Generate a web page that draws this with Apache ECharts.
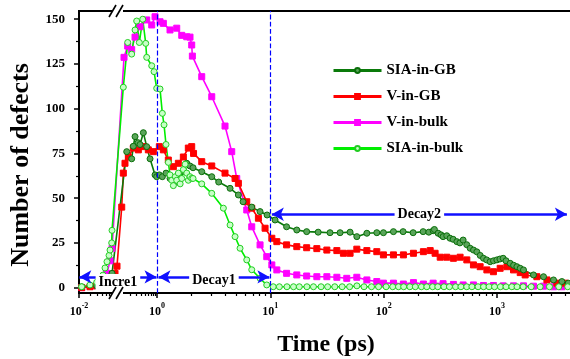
<!DOCTYPE html>
<html>
<head>
<meta charset="utf-8">
<script src="https://cdn.jsdelivr.net/npm/echarts@6/dist/echarts.min.js"></script>
<style>
  html, body { margin: 0; padding: 0; background: #fff; }
  #chart { width: 570px; height: 359px; }
</style>
</head>
<body>
<div id="chart"></div>
<script>
// time in ps, number of defects
const siaInGB = [
  [0.0117, 0.5], [0.0284, 1], [0.0464, 2], [0.0588, 4], [0.0702, 8],
  [0.167, 76], [0.224, 72], [0.247, 79], [0.273, 84.4], [0.326, 81], [0.367, 80],
  [0.446, 86.6], [0.544, 78.8], [0.662, 72], [0.889, 63], [0.98, 62],
  [1.048, 63], [1.114, 62], [1.2, 64], [1.302, 61], [1.393, 60], [1.492, 59],
  [1.6, 61], [1.707, 65], [1.828, 69.5], [1.954, 68], [2.078, 67], [2.48, 64.8],
  [3.04, 62], [3.5, 59], [4.41, 55.5], [5.22, 51.8], [5.74, 48], [6.85, 45],
  [8.11, 42.5], [9.35, 40.6], [11.0, 37.8], [13.9, 34], [17.1, 32.2], [20.9, 31.3],
  [26.4, 31], [33.6, 30.7], [41.2, 30.7], [50.5, 31], [57.9, 28.5], [71, 30.4],
  [86.9, 30.7], [99.4, 30.7], [121.8, 31.3], [148.3, 31.3], [181.8, 30.7],
  [222.8, 31.3], [250, 31], [273, 31.8], [280, 32.5], [302, 30.4], [320, 29.5],
  [334, 28.5], [360, 29], [385, 27.6], [410, 27], [442, 25.7], [470, 25],
  [502, 26.6], [540, 24], [579, 22], [620, 21], [663, 20], [710, 18], [759, 16.4],
  [810, 15.5], [869, 14.5], [930, 15], [996, 15.5], [1060, 16], [1132, 16.4],
  [1200, 15], [1306, 13.6], [1400, 12.5], [1497, 11.7], [1600, 10.8], [1711, 9.9],
  [2096, 7.1], [2570, 6.1], [3148, 4.3], [3733, 3.4], [4244, 2.5]
];
const vInGB = [
  [0.0117, 0], [0.0191, 0.5], [0.0284, 1], [0.0412, 1.5], [0.0522, 2.5],
  [0.0624, 4], [0.0702, 6], [0.0838, 8], [0.0942, 12],
  [0.1245, 45], [0.1368, 64], [0.151, 69.5], [0.184, 73], [0.247, 78], [0.332, 77],
  [0.446, 78.8], [0.598, 77], [0.804, 76], [1.048, 78.8], [1.137, 77], [1.258, 71.3],
  [1.393, 67.6], [1.542, 69.5], [1.707, 73], [1.888, 78], [2.023, 78.8], [2.1, 75],
  [2.48, 70.4], [3.04, 68], [3.98, 64], [4.88, 61], [5.22, 58.3], [6.19, 48],
  [6.85, 44.4], [7.84, 38.8], [8.98, 33.2], [10.3, 27.6], [11.4, 25.7], [13.9, 23.9],
  [17.1, 22.9], [20.9, 22.3], [25.7, 21.8], [31.5, 21], [38.6, 20.7], [44.1, 19.2],
  [50.5, 19.2], [57.9, 21.5], [71, 20.7], [86.9, 20.1], [99.4, 18.3], [121.8, 18.3],
  [149.2, 18.3], [182.9, 19.2], [223.9, 20.1], [257, 20.7], [284, 19.2], [315, 17],
  [360, 17], [412, 16.4], [472, 17], [541, 15.5], [619, 12.7], [709, 11.7],
  [813, 9.9], [929, 8.9], [1065, 10.8], [1222, 11.7], [1397, 9.9], [1600, 8.4],
  [1770, 7.1], [2245, 6.1], [2754, 4.3], [3373, 2.5], [3990, 2.5]
];
const vInBulk = [
  [0.0117, 0], [0.0284, 1], [0.0412, 3], [0.0522, 8], [0.0624, 15], [0.0702, 22],
  [0.1426, 128.7], [0.177, 135], [0.224, 133], [0.273, 140], [0.367, 145.8],
  [0.544, 149.6], [0.731, 146.8], [0.889, 151.4], [1.063, 148.6], [1.137, 147.7],
  [1.302, 144], [1.492, 145], [1.652, 141], [1.828, 140.2], [1.954, 140],
  [2.023, 135.6], [2.05, 129.4], [2.48, 117.9], [3.04, 106.7], [3.98, 90.3],
  [4.56, 76], [5.05, 61], [6.19, 43.4], [6.85, 34], [8.11, 23.9], [9.29, 17.3],
  [10.3, 12.7], [11.4, 9.9], [13.9, 8], [17.1, 7.1], [20.9, 6.5], [25.7, 6.1],
  [31.5, 6.1], [38.6, 5.8], [47.2, 5.2], [57.9, 5.8], [71, 4.3], [86.9, 3.4],
  [99.4, 2.5], [121.8, 2.5], [149, 2], [183, 2.8], [224, 2], [273, 2.5], [334, 2.2],
  [412, 1.8], [502, 1.5], [619, 1.5], [759, 1.2], [929, 1.2], [1132, 1], [1397, 1],
  [1711, 1], [2096, 0.8], [2570, 0.8], [3148, 0.5], [3733, 0.5]
];
const siaInBulk = [
  [0.0117, 0.5], [0.0191, 1.5], [0.0284, 3], [0.0412, 7], [0.0464, 11],
  [0.0522, 14.5], [0.0588, 18], [0.0624, 21], [0.0689, 25], [0.0702, 32],
  [0.1368, 112], [0.177, 137], [0.224, 130.5], [0.273, 144], [0.301, 149],
  [0.352, 137], [0.43, 150], [0.513, 136.5], [0.544, 128.7], [0.731, 124],
  [0.838, 120.7], [0.98, 111.4], [1.063, 111], [1.114, 97.4], [1.153, 91],
  [1.2, 80], [1.258, 70], [1.302, 63], [1.35, 60], [1.393, 57], [1.45, 62],
  [1.492, 60], [1.542, 64], [1.6, 58], [1.652, 61], [1.707, 66], [1.77, 69],
  [1.828, 64], [1.888, 60], [1.954, 62], [2.023, 61], [2.078, 61], [2.48, 58],
  [3.04, 52.7], [3.85, 44.4], [4.41, 35], [4.88, 28.5], [5.4, 22], [6.19, 15.5],
  [6.85, 10], [8.11, 5.2], [9.29, 1.5], [10.6, 0.5], [12, 0.5], [14, 0.5],
  [16, 0.5], [18, 0.5], [21, 0.5], [24, 0.5], [28, 0.5], [32, 0.5], [37, 0.5],
  [43, 0.5], [50, 0.5], [58, 1], [67, 0.5], [78, 0.5], [90, 0.5], [105, 0.5],
  [120, 0.5], [135, 0.5], [150, 0.5], [170, 0.5], [190, 0.5], [215, 0.5],
  [240, 0.5], [270, 0.5], [300, 0.5], [340, 0.5], [380, 0.5], [430, 0.5],
  [480, 0.5], [540, 0.5], [600, 0.5], [680, 0.5], [760, 0.5], [850, 0.5],
  [950, 0.5], [1070, 0.5], [1200, 0.5], [1350, 0.5], [1500, 0.5], [1700, 0.5],
  [2000, 0.5], [2400, 0.5], [2900, 0.5], [3500, 0.5], [4200, 0.5]
];
const yTicks = [0, 25, 50, 75, 100, 125, 150];
const yMinorTicks = [12.5, 37.5, 62.5, 87.5, 112.5, 137.5];
const xTickExps = [-2, 0, 1, 2, 3];
const xMinorTimes = [
  0.02, 0.03, 0.04, 0.05, 0.06, 0.07, 0.08, 0.09,
  0.2, 0.3, 0.4, 0.5, 0.6, 0.7, 0.8, 0.9,
  2, 3, 4, 5, 6, 7, 8, 9, 20, 30, 40, 50, 60, 70, 80, 90,
  200, 300, 400, 500, 600, 700, 800, 900, 2000, 3000, 4000
];
const phases = [
  { name: 'Incre1', from: 0.0102, to: 0.97, y: 6, dy: 18 },
  { name: 'Decay1', from: 1.03, to: 9.8, y: 6, dy: 16 },
  { name: 'Decay2', from: 10.3, to: 4130, y: 41, dy: 13 }
];

// left part (10^-2..10^0) is squeezed, as in the original broken axis
const K = 39 / 113.3;
const toAxis = t => { const e = Math.log10(t); return e < 0 ? e * K : e; };
const fromAxis = s => s < 0 ? s / K : s;

const FONT = '"Liberation Serif", "Times New Roman", serif';
const xMin = toAxis(0.01), xMax = 3.67, yMin = -3, yMax = 154.6;

const chart = echarts.init(document.getElementById('chart'));

const mk = (name, data, color, symbol, fill, border) => ({
  name: name,
  type: 'line',
  data: data.map(d => [toAxis(d[0]), d[1]]),
  symbol: symbol,
  symbolSize: 6,
  showSymbol: true,
  lineStyle: { color: color, width: 1.6 },
  itemStyle: { color: fill, borderColor: border, borderWidth: 1 },
  animation: false
});

const option = {
  animation: false,
  grid: {
    left: 79, right: -3, top: 11, bottom: 66,
    outerBoundsMode: 'none', containLabel: false,
    show: true, borderColor: '#000', borderWidth: 2
  },
  legend: {
    data: ['SIA-in-GB', 'V-in-GB', 'V-in-bulk', 'SIA-in-bulk'],
    orient: 'vertical',
    left: 332,
    top: 63,
    padding: 0,
    itemWidth: 48,
    itemHeight: 6,
    itemGap: 11,
    lineStyle: { width: 3 },
    textStyle: { fontFamily: FONT, fontWeight: 'bold', fontSize: 15, color: '#000' }
  },
  xAxis: [
    {
      type: 'value', min: xMin, max: xMax, position: 'bottom',
      splitLine: { show: false },
      axisLine: { show: true, onZero: false, lineStyle: { color: '#000', width: 2 } },
      axisTick: { show: true, length: 5, customValues: xTickExps.map(e => toAxis(Math.pow(10, e))), lineStyle: { color: '#000', width: 1.5 } },
      axisLabel: {
        customValues: xTickExps.map(e => toAxis(Math.pow(10, e))),
        margin: 9,
        formatter: v => '{b|10}{s|' + Math.round(fromAxis(v)) + '}',
        rich: {
          b: { fontFamily: FONT, fontWeight: 'bold', fontSize: 12, color: '#000', lineHeight: 20 },
          s: { fontFamily: FONT, fontWeight: 'bold', fontSize: 8, color: '#000', verticalAlign: 'top' }
        }
      },
      name: 'Time (ps)', nameLocation: 'middle', nameGap: 40,
      nameTextStyle: { fontFamily: FONT, fontWeight: 'bold', fontSize: 24, color: '#000' }
    },
    {
      type: 'value', min: xMin, max: xMax, position: 'bottom',
      splitLine: { show: false },
      axisLine: { show: false, onZero: false },
      axisTick: { show: true, length: 3, customValues: xMinorTimes.map(toAxis), lineStyle: { color: '#000', width: 1.2 } },
      axisLabel: { show: false }
    }
  ],
  yAxis: [
    {
      type: 'value', min: yMin, max: yMax, position: 'left',
      splitLine: { show: false },
      axisLine: { show: true, onZero: false, lineStyle: { color: '#000', width: 2 } },
      axisTick: { show: true, length: 5, customValues: yTicks, lineStyle: { color: '#000', width: 1.5 } },
      axisLabel: { customValues: yTicks, margin: 14, fontFamily: FONT, fontWeight: 'bold', fontSize: 13, color: '#000' },
      name: 'Number of defects', nameLocation: 'middle', nameGap: 44,
      nameTextStyle: { fontFamily: FONT, fontWeight: 'bold', fontSize: 26, color: '#000', padding: [0, 26, 0, 0] }
    },
    {
      type: 'value', min: yMin, max: yMax, position: 'left',
      splitLine: { show: false },
      axisLine: { show: false, onZero: false },
      axisTick: { show: true, length: 3, customValues: yMinorTicks, lineStyle: { color: '#000', width: 1.2 } },
      axisLabel: { show: false }
    }
  ],
  series: [
    mk('V-in-bulk', vInBulk, '#ff00ff', 'rect', '#ff00ff', '#ff00ff'),
    mk('V-in-GB', vInGB, '#ff0000', 'rect', '#ff0000', '#ff0000'),
    mk('SIA-in-GB', siaInGB, '#0a7a0a', 'circle', '#5aa55a', '#0a6e0a'),
    mk('SIA-in-bulk', siaInBulk, '#00ee00', 'circle', '#c8ffc8', '#22cc22'),
    {
      name: 'guides', type: 'line', data: [], silent: true, animation: false,
      markLine: {
        silent: true,
        animation: false,
        symbol: 'none',
        data: [
          { xAxis: 0, lineStyle: { color: '#0000ff', type: 'dashed', width: 1.2 }, label: { show: false } },
          { xAxis: 1, lineStyle: { color: '#0000ff', type: 'dashed', width: 1.2 }, label: { show: false } }
        ].concat(phases.map(p => [
          {
            coord: [toAxis(p.from), p.y],
            symbol: 'arrow',
            lineStyle: { color: '#1010ff', type: 'solid', width: 2.5 },
            label: {
              show: true, position: 'middle', formatter: p.name, offset: [0, p.dy],
              fontFamily: FONT, fontWeight: 'bold', fontSize: 14, color: '#000',
              backgroundColor: '#fff', padding: [1, 3]
            }
          },
          { coord: [toAxis(p.to), p.y], symbol: 'arrow' }
        ])),
        symbolSize: [10, 12]
      }
    }
  ]
};
chart.setOption(option);

// break marks on the top and bottom frame at 10^-1
const bx = chart.convertToPixel({ xAxisIndex: 0 }, toAxis(0.1));
const yTop = chart.convertToPixel({ yAxisIndex: 0 }, yMax);
const yBot = chart.convertToPixel({ yAxisIndex: 0 }, yMin);
const breakMark = y => [
  { type: 'rect', shape: { x: bx - 6, y: y - 3, width: 11, height: 6 }, style: { fill: '#fff' }, z: 100 },
  { type: 'line', shape: { x1: bx - 9, y1: y + 6, x2: bx - 2, y2: y - 6 }, style: { stroke: '#000', lineWidth: 1.6 }, z: 101 },
  { type: 'line', shape: { x1: bx - 2, y1: y + 6, x2: bx + 5, y2: y - 6 }, style: { stroke: '#000', lineWidth: 1.6 }, z: 101 }
];
chart.setOption({ graphic: breakMark(yTop).concat(breakMark(yBot)) });
</script>
</body>
</html>
